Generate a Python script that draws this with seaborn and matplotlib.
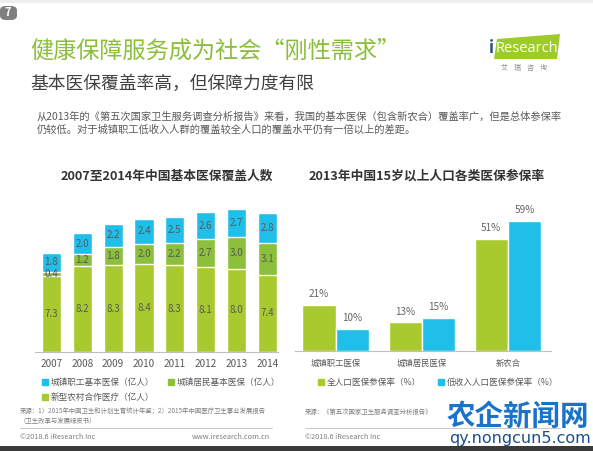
import matplotlib
matplotlib.use("Agg")
import matplotlib.pyplot as plt
from matplotlib.patches import Patch, Rectangle, FancyBboxPatch, Polygon
import numpy as np
import pandas as pd
import seaborn as sns

sns.set_theme(style="white")
plt.rcParams["font.family"] = ["Noto Sans CJK SC", "DejaVu Sans"]

# ── Data ───────────────────────────────────────────────────
years      = ["2007", "2008", "2009", "2010", "2011", "2012", "2013", "2014"]
rural      = [7.3, 8.2, 8.3, 8.4, 8.3, 8.1, 8.0, 7.4]   # 新型农村合作医疗
resident   = [0.4, 1.2, 1.8, 2.0, 2.2, 2.7, 3.0, 3.1]   # 城镇居民基本医保
employee   = [1.8, 2.0, 2.2, 2.4, 2.5, 2.6, 2.7, 2.8]   # 城镇职工基本医保

ins_types  = ["城镇职工医保", "城镇居民医保", "新农合"]
rate_all   = [21, 13, 51]     # 全人口医保参保率
rate_low   = [10, 15, 59]     # 低收入人口医保参保率

# ── Palette ────────────────────────────────────────────────
C_BLUE   = "#1FBFEA"
C_GREEN  = "#8CBF3C"
C_YGREEN = "#A8CA2E"
C_TEXT   = "#595959"
C_TITLE  = "#8BBF3A"

W, H = 593, 451
fig = plt.figure(figsize=(W / 100, H / 100), dpi=100, facecolor="white")


def px(x0, y0, x1, y1):
    # pixel box (top-left origin) -> figure fraction rect
    return [x0 / W, 1 - y1 / H, (x1 - x0) / W, (y1 - y0) / H]


def ftext(x, y, s, **kw):
    fig.text(x / W, 1 - y / H, s, **kw)


# ── Header ─────────────────────────────────────────────────
fig.add_artist(Rectangle((0, 1 - 3 / H), 1, 3 / H, transform=fig.transFigure,
                         color="#EEEEEE", lw=0))
fig.add_artist(FancyBboxPatch((0, 1 - 20 / H), 17 / W, 14 / H, transform=fig.transFigure,
                              boxstyle="round,pad=0,rounding_size=0.01",
                              color="#7F7F7F", lw=0))
ftext(8, 13, "7", color="white", fontsize=8, fontweight="bold", ha="center", va="center")

ftext(30, 51, "健康保障服务成为社会“刚性需求”", color=C_TITLE, fontsize=16.7,
      ha="left", va="center")
ftext(30, 84, "基本医保覆盖率高，但保障力度有限", color="#404040", fontsize=12.8,
      ha="left", va="center")
ftext(37, 117, "从2013年的《第五次国家卫生服务调查分析报告》来看，我国的基本医保（包含新农合）覆盖率广，但是总体参保率",
      color=C_TEXT, fontsize=7.4, ha="left", va="center")
ftext(37, 130, "仍较低。对于城镇职工低收入人群的覆盖较全人口的覆盖水平仍有一倍以上的差距。",
      color=C_TEXT, fontsize=7.4, ha="left", va="center")

# iResearch logo
fig.add_artist(Polygon([(494 / W, 1 - 59 / H), (497 / W, 1 - 39 / H),
                        (560 / W, 1 - 34 / H), (557 / W, 1 - 59 / H)],
                       closed=True, transform=fig.transFigure, color="#9CCB2A", lw=0))
ftext(489, 48, "i", color="#2F4F7F", fontsize=12, ha="left", va="center", fontweight="bold")
ftext(496, 48, "Research", color="white", fontsize=10.5, ha="left", va="center",
      family=["Open Sans", "DejaVu Sans"])
ftext(524, 68, "艾    瑞    咨    询", color="#8C8C8C", fontsize=5, ha="center", va="center")

# ── Left chart: stacked bars ───────────────────────────────
ax1 = fig.add_axes(px(35, 195, 278, 351.7))
df1 = pd.DataFrame({"year": years, "rural": rural, "resident": resident,
                    "employee": employee})
df1["mid"] = df1["rural"] + df1["resident"]
df1["total"] = df1["mid"] + df1["employee"]

sns.barplot(data=df1, x="year", y="total", color=C_BLUE, width=0.62,
            saturation=1, ax=ax1)
sns.barplot(data=df1, x="year", y="mid", color=C_GREEN, width=0.62,
            saturation=1, ax=ax1)
sns.barplot(data=df1, x="year", y="rural", color=C_YGREEN, width=0.62,
            saturation=1, ax=ax1)

for i, row in df1.iterrows():
    ax1.text(i, row["rural"] / 2, f"{row['rural']:.1f}", ha="center", va="center",
             fontsize=7, color=C_TEXT)
    ax1.text(i, row["rural"] + row["resident"] / 2, f"{row['resident']:.1f}",
             ha="center", va="center", fontsize=7, color=C_TEXT)
    ax1.text(i, row["mid"] + row["employee"] / 2, f"{row['employee']:.1f}",
             ha="center", va="center", fontsize=7, color=C_TEXT)

ax1.set_xlim(-0.53, 7.34)
ax1.set_ylim(0, 15.07)
ax1.set_xlabel(""); ax1.set_ylabel("")
ax1.set_yticks([])
ax1.tick_params(axis="x", length=0, pad=5, labelsize=7.2, labelcolor=C_TEXT)
for s in ["top", "right", "left"]:
    ax1.spines[s].set_visible(False)
ax1.spines["bottom"].set_color("#BFBFBF")
ax1.spines["bottom"].set_linewidth(0.8)
ax1.set_facecolor("none")

ftext(167, 176, "2007至2014年中国基本医保覆盖人数", color="#333333", fontsize=9.2,
      fontweight="bold", ha="center", va="center")

# column-major fill: blue / rural in col 1, resident in col 2
leg1 = [Patch(color=C_BLUE, label="城镇职工基本医保（亿人）"),
        Patch(color=C_YGREEN, label="新型农村合作医疗（亿人）"),
        Patch(color=C_GREEN, label="城镇居民基本医保（亿人）")]
fig.legend(handles=leg1, loc="upper left", bbox_to_anchor=(42 / W, 1 - 378 / H),
           ncol=2, frameon=False, fontsize=6.2, handlelength=0.7, handleheight=0.7,
           handletextpad=0.3, columnspacing=1.6, labelspacing=0.75, labelcolor=C_TEXT,
           borderaxespad=0, borderpad=0)

# ── Right chart: grouped bars ──────────────────────────────
ax2 = fig.add_axes(px(295, 195, 551, 350.7))
df2 = pd.DataFrame({"type": ins_types * 2,
                    "group": ["全人口医保参保率（%）"] * 3 + ["低收入人口医保参保率（%）"] * 3,
                    "rate": rate_all + rate_low})
sns.barplot(data=df2, x="type", y="rate", hue="group",
            palette=[C_YGREEN, C_BLUE], width=0.77, saturation=1, ax=ax2,
            legend=False)
for cont in ax2.containers:
    ax2.bar_label(cont, labels=[f"{v:.0f}%" for v in cont.datavalues],
                  padding=4, fontsize=7.2, color="#666666")

ax2.set_xlim(-0.47, 2.50)
ax2.set_ylim(0, 70.8)
ax2.set_xlabel(""); ax2.set_ylabel("")
ax2.set_yticks([])
ax2.tick_params(axis="x", length=0, pad=6, labelsize=6, labelcolor=C_TEXT)
for s in ["top", "right", "left"]:
    ax2.spines[s].set_visible(False)
ax2.spines["bottom"].set_color("#BFBFBF")
ax2.spines["bottom"].set_linewidth(0.8)
ax2.set_facecolor("none")

ftext(427, 176, "2013年中国15岁以上人口各类医保参保率", color="#333333", fontsize=9.2,
      fontweight="bold", ha="center", va="center")

leg2 = [Patch(color=C_YGREEN, label="全人口医保参保率（%）"),
        Patch(color=C_BLUE, label="低收入人口医保参保率（%）")]
fig.legend(handles=leg2, loc="upper left", bbox_to_anchor=(318 / W, 1 - 378 / H),
           ncol=2, frameon=False, fontsize=6.2, handlelength=0.7, handleheight=0.7,
           handletextpad=0.3, columnspacing=2.0, labelcolor=C_TEXT,
           borderaxespad=0, borderpad=0)

# ── Footer ─────────────────────────────────────────────────
ftext(20, 412, "来源：1）2015年中国卫生和计划生育统计年鉴；2）2015年中国医疗卫生事业发展报告",
      color="#7F7F7F", fontsize=4.6, ha="left", va="center")
ftext(20, 421, "（卫生改革与发展绿皮书）", color="#7F7F7F", fontsize=4.6, ha="left", va="center")
ftext(305, 412, "来源：《第五次国家卫生服务调查分析报告》", color="#7F7F7F", fontsize=4.6,
      ha="left", va="center")
for x0, x1 in [(20, 272), (305, 560)]:
    fig.add_artist(plt.Line2D([x0 / W, x1 / W], [1 - 428 / H, 1 - 428 / H],
                              transform=fig.transFigure, color="#BFBFBF", lw=0.6))
ftext(20, 437, "©2018.6 iResearch Inc", color="#7F7F7F", fontsize=5.3, ha="left", va="center")
ftext(270, 437, "www.iresearch.com.cn", color="#7F7F7F", fontsize=5.3, ha="right", va="center")
ftext(305, 437, "©2018.6 iResearch Inc", color="#7F7F7F", fontsize=5.3, ha="left", va="center")
fig.add_artist(Rectangle((0, 0), 1, 5 / H, transform=fig.transFigure,
                         color="#3A3A3A", lw=0))

# watermark
ftext(518, 417, "农企新闻网", color="#1A73C8", fontsize=20.5, fontweight="bold",
      ha="center", va="center")
ftext(520, 439, "qy.nongcun5.com", color="#1D4E89", fontsize=11.5, ha="center", va="center",
      family=["DejaVu Sans"])

fig.savefig("out.png", dpi=100, facecolor="white")
